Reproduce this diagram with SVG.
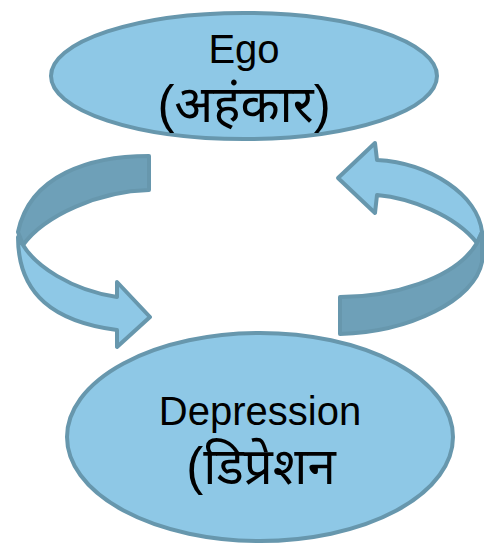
<svg xmlns="http://www.w3.org/2000/svg" width="491" height="548" viewBox="0 0 491 548">
<style>
.node{fill:#8ec8e6;stroke:#6797ad;stroke-width:4}
.light{fill:#8ec8e6;stroke:#6797ad;stroke-width:4;stroke-linejoin:round}
.dark{fill:#6ea0b8;stroke:#6797ad;stroke-width:4;stroke-linejoin:round}
.lbl{font-family:"Liberation Sans","Noto Sans Devanagari","Noto Sans",sans-serif;font-size:40px;fill:#000;text-anchor:middle}
.hi{font-size:51px}
</style>
<g id="connectors">
<g id="arrow-left">
<path class="dark" d="M149,156 C90,156 30,175 18,232 L23,245 C45,215 100,191 149,190 Z"/>
<path class="light" d="M23,245 C35,265 70,290 117,297 L117,282 L150,317 L117,347 L117,330 C55,322 18,295 18,237 Z"/>
</g>
<g id="arrow-right">
<path class="light" d="M377,160 L375,143 L338,178 L375,213 L377,195 C410,198 455,215 477,243 L482,232 C478,195 430,163 377,160 Z"/>
<path class="dark" d="M340,297 C390,297 455,280 477,243 L482,232 L482,262 C475,300 410,332 340,334 Z"/>
</g>
</g>
<g id="node-ego">
<ellipse class="node" cx="244" cy="76" rx="193" ry="63"/>
<text class="lbl" x="244" y="63">Ego</text>
<text class="lbl hi" x="244" y="122">(अहंकार)</text>
</g>
<g id="node-depression">
<ellipse class="node" cx="260" cy="437" rx="193" ry="104"/>
<text class="lbl" x="260" y="425">Depression</text>
<text class="lbl hi" x="261" y="484">(डिप्रेशन</text>
</g>
</svg>
